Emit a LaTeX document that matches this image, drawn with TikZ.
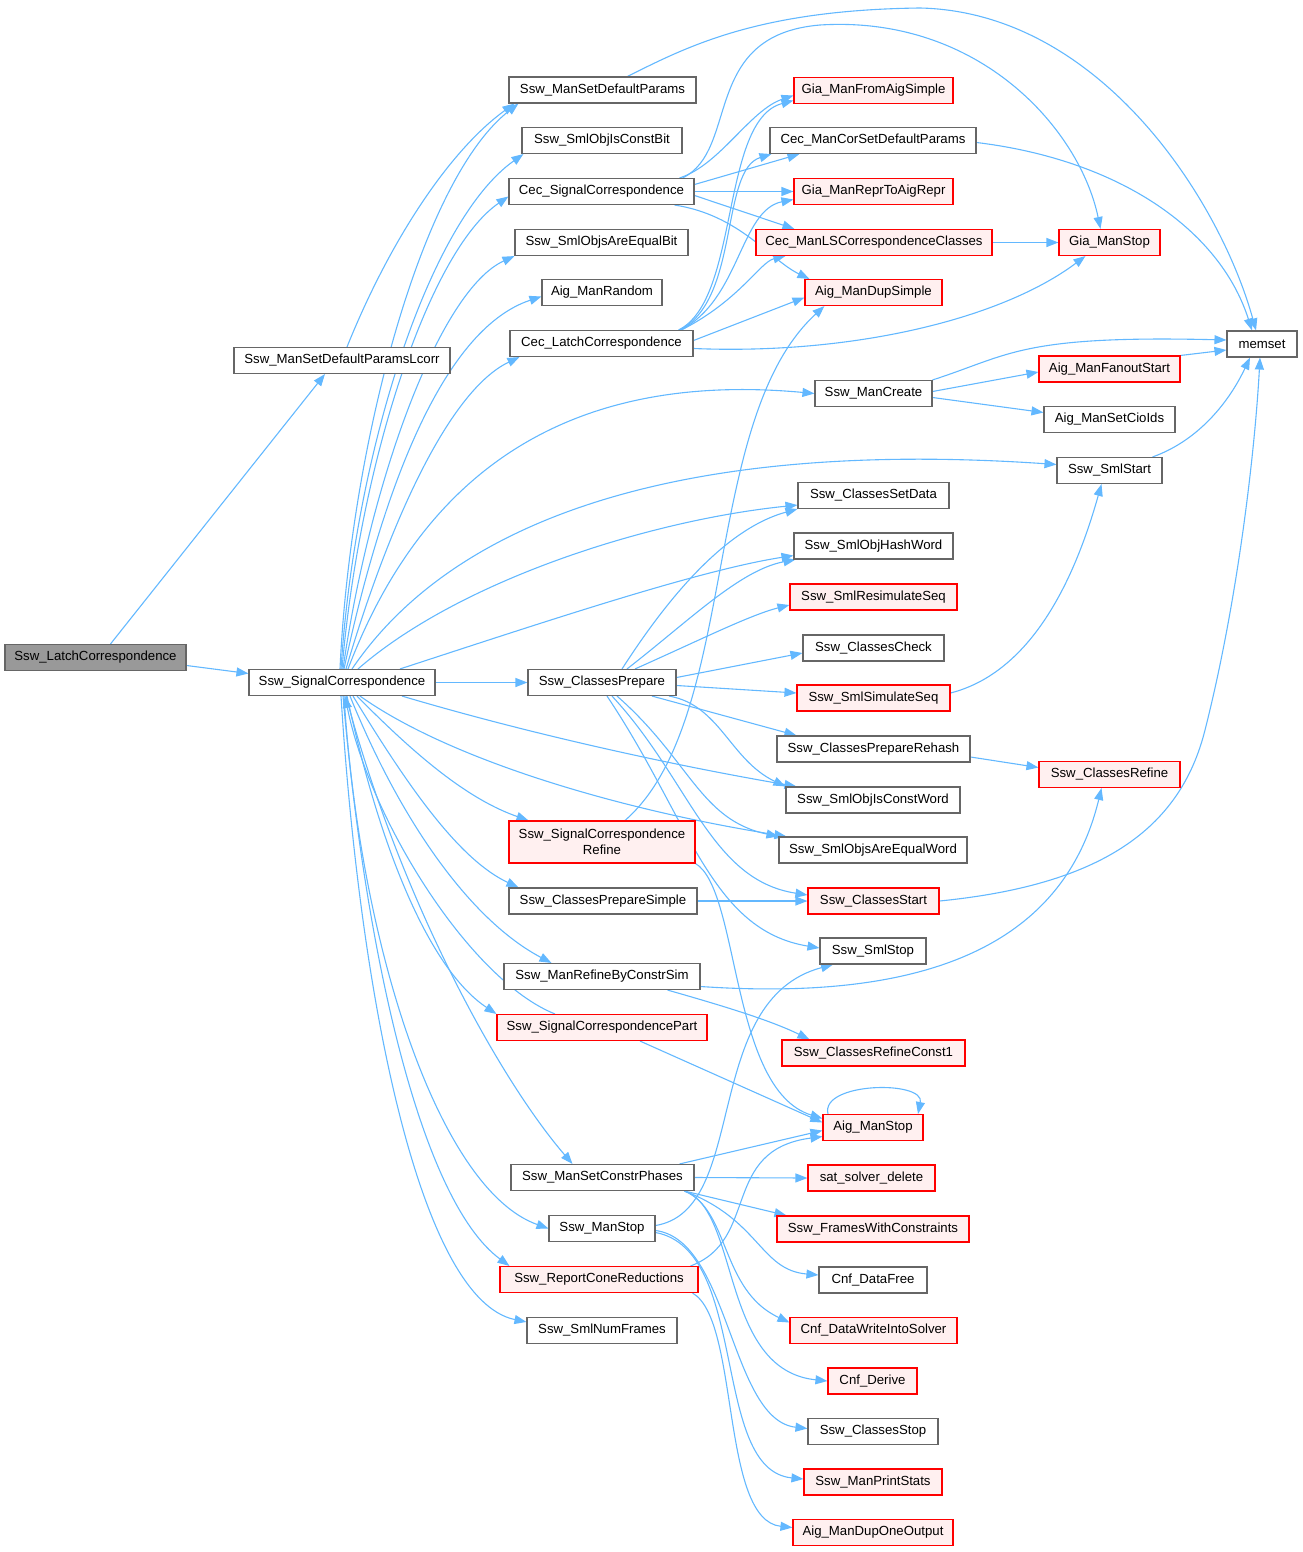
\documentclass[tikz,border=0pt]{standalone}
\usepackage{fontspec}
\setmainfont{Liberation Sans}
\usetikzlibrary{arrows.meta}
\definecolor{edgec}{HTML}{63B8FF}
\definecolor{nbord}{HTML}{666666}
\definecolor{rbord}{HTML}{FF0000}
\definecolor{rfill}{HTML}{FFF0F0}
\definecolor{rootfill}{HTML}{999999}
\pgfdeclarelayer{edges}
\pgfsetlayers{edges,main}
\begin{document}
\begin{tikzpicture}[x=1pt,y=-1pt,
 nd/.style={draw=nbord, fill=white, line width=1.1pt, minimum height=26pt, inner sep=0pt, font=\fontsize{13.2}{15.5}\selectfont},
 rnd/.style={nd, draw=rbord, fill=rfill},
 root/.style={nd, fill=rootfill},
 e/.style={draw=edgec, line width=1.1pt, -{Triangle[length=12pt,width=9pt]}}]
\useasboundingbox (0,0) rectangle (1302,1552);
% column 1/2
\node[root, minimum width=181] (lc) at (95.5,657.5) {Ssw\_LatchCorrespondence};
\node[nd, minimum width=216] (lcorr) at (342,360.5) {Ssw\_ManSetDefaultParamsLcorr};
\node[nd, minimum width=186] (sc) at (342,682.5) {Ssw\_SignalCorrespondence};
% column 3
\node[nd, minimum width=187] (msdp) at (602.5,90) {Ssw\_ManSetDefaultParams};
\node[nd, minimum width=160] (socb) at (602,140.5) {Ssw\_SmlObjIsConstBit};
\node[nd, minimum width=185] (cecsc) at (601.5,191.5) {Cec\_SignalCorrespondence};
\node[nd, minimum width=173] (soaeb) at (601.5,242.5) {Ssw\_SmlObjsAreEqualBit};
\node[nd, minimum width=120] (amr) at (602,292.5) {Aig\_ManRandom};
\node[nd, minimum width=183] (ceclc) at (601.5,343.5) {Cec\_LatchCorrespondence};
\node[nd, minimum width=148] (cp) at (602,682.5) {Ssw\_ClassesPrepare};
\node[rnd, minimum width=186, minimum height=42, align=center] (scr) at (602,842) {Ssw\_SignalCorrespondence\\Refine};
\node[nd, minimum width=188] (cps) at (603,901) {Ssw\_ClassesPrepareSimple};
\node[nd, minimum width=196] (mrbcs) at (602,976.5) {Ssw\_ManRefineByConstrSim};
\node[rnd, minimum width=210] (scp) at (602,1027.5) {Ssw\_SignalCorrespondencePart};
\node[nd, minimum width=183] (mscp) at (602.5,1177.5) {Ssw\_ManSetConstrPhases};
\node[nd, minimum width=106] (msstop) at (602,1228.5) {Ssw\_ManStop};
\node[rnd, minimum width=198] (rcr) at (599,1279.5) {Ssw\_ReportConeReductions};
\node[nd, minimum width=150] (snf) at (602,1330.5) {Ssw\_SmlNumFrames};
% column 4
\node[rnd, minimum width=159] (gmfas) at (873.5,90.5) {Gia\_ManFromAigSimple};
\node[nd, minimum width=206] (ccsdp) at (873,140.5) {Cec\_ManCorSetDefaultParams};
\node[rnd, minimum width=159] (gmrar) at (873.5,191.5) {Gia\_ManReprToAigRepr};
\node[rnd, minimum width=236] (cmlscc) at (874,242.5) {Cec\_ManLSCorrespondenceClasses};
\node[rnd, minimum width=137] (amds) at (873.5,292.5) {Aig\_ManDupSimple};
\node[nd, minimum width=117] (smc) at (873.5,393.5) {Ssw\_ManCreate};
\node[nd, minimum width=151] (csd) at (873.5,495.5) {Ssw\_ClassesSetData};
\node[nd, minimum width=159] (sohw) at (873.5,546) {Ssw\_SmlObjHashWord};
\node[rnd, minimum width=167] (srs) at (873.5,597) {Ssw\_SmlResimulateSeq};
\node[nd, minimum width=141] (cc) at (873.5,648) {Ssw\_ClassesCheck};
\node[rnd, minimum width=153] (sss) at (873.5,698) {Ssw\_SmlSimulateSeq};
\node[nd, minimum width=193] (cpr) at (873.5,749) {Ssw\_ClassesPrepareRehash};
\node[nd, minimum width=174] (socw) at (873,800) {Ssw\_SmlObjIsConstWord};
\node[nd, minimum width=188] (soaew) at (873,850) {Ssw\_SmlObjsAreEqualWord};
\node[rnd, minimum width=131] (cs) at (873.5,901) {Ssw\_ClassesStart};
\node[nd, minimum width=106] (sstop) at (873,951) {Ssw\_SmlStop};
\node[rnd, minimum width=183] (crc1) at (873.5,1053) {Ssw\_ClassesRefineConst1};
\node[rnd, minimum width=100] (ams) at (873,1127.5) {Aig\_ManStop};
\node[rnd, minimum width=127] (ssd) at (871.5,1178) {sat\_solver\_delete};
\node[rnd, minimum width=192] (fwc) at (873,1229) {Ssw\_FramesWithConstraints};
\node[nd, minimum width=108] (cdf) at (873,1280) {Cnf\_DataFree};
\node[rnd, minimum width=167] (cdwis) at (873.5,1330.5) {Cnf\_DataWriteIntoSolver};
\node[rnd, minimum width=89] (cd) at (872.5,1381) {Cnf\_Derive};
\node[nd, minimum width=130] (csstop) at (873,1431.5) {Ssw\_ClassesStop};
\node[rnd, minimum width=138] (mps) at (873,1482) {Ssw\_ManPrintStats};
\node[rnd, minimum width=160] (amdoo) at (873,1532.5) {Aig\_ManDupOneOutput};
% column 5
\node[rnd, minimum width=101] (gms) at (1109.5,242.5) {Gia\_ManStop};
\node[rnd, minimum width=141] (amfs) at (1109.5,369) {Aig\_ManFanoutStart};
\node[nd, minimum width=131] (amsci) at (1109.5,419.5) {Aig\_ManSetCioIds};
\node[nd, minimum width=105] (smlstart) at (1109.5,470.5) {Ssw\_SmlStart};
\node[rnd, minimum width=141] (cr) at (1109.5,774.5) {Ssw\_ClassesRefine};
% column 6
\node[nd, minimum width=70] (memset) at (1262,344) {memset};

\begin{pgfonlayer}{edges}
% root
\draw[e] ([xshift=15]lc.north) -- ([xshift=-17]lcorr.south);
\draw[e] ([yshift=-8]lc.east) -- ([yshift=9]sc.west);
\draw[e] ([xshift=5]lcorr.north) .. controls (390,240) and (450,150) .. ([xshift=6]msdp.south west);
\draw[e] ([xshift=25]msdp.north) .. controls (690,45) and (760,10) .. (920,8) .. controls (1100,12) and (1220,200) .. ([xshift=-6]memset.north);
% sc upward
\draw[e] ([xshift=-2]sc.north) .. controls (350,450) and (420,180) .. ([xshift=10]msdp.south west);
\draw[e] ([xshift=-1]sc.north) .. controls (355,450) and (430,220) .. ([xshift=2]socb.south west);
\draw[e] (sc.north) .. controls (360,460) and (430,250) .. ([yshift=-5]cecsc.west);
\draw[e] ([xshift=1]sc.north) .. controls (370,480) and (440,290) .. (soaeb.south west);
\draw[e] ([xshift=2]sc.north) .. controls (380,500) and (440,330) .. ([yshift=-4]amr.west);
\draw[e] ([xshift=4]sc.north) .. controls (390,520) and (450,390) .. ([xshift=10]ceclc.south west);
\draw[e] ([xshift=6]sc.north) .. controls (420,480) and (560,370) .. (smc.west);
\draw[e] ([xshift=10]sc.north) .. controls (460,510) and (700,440) .. ([yshift=6]smlstart.west);
\draw[e] ([xshift=16]sc.north) .. controls (460,580) and (650,520) .. ([yshift=4]csd.south west);
\draw[e] ([xshift=58]sc.north) .. controls (550,620) and (700,570) .. ([yshift=4]sohw.south west);
\draw[e] (sc.east) -- (cp.west);
% sc downward
\draw[e] ([xshift=60]sc.south) .. controls (550,740) and (700,770) .. ([xshift=11]socw.north west);
\draw[e] ([xshift=18]sc.south) .. controls (450,760) and (620,810) .. ([xshift=8]soaew.north west);
\draw[e] ([xshift=15]sc.south) .. controls (420,760) and (470,800) .. ([xshift=20]scr.north west);
\draw[e] ([xshift=11]sc.south) .. controls (410,790) and (460,860) .. ([xshift=10]cps.north west);
\draw[e] ([xshift=8]sc.south) .. controls (400,820) and (470,920) .. ([xshift=48]mrbcs.north west);
\draw[e] ([xshift=5]sc.south) .. controls (380,850) and (430,970) .. (scp.north west);
\draw[e] ([xshift=-47]scp.north) .. controls (470,980) and (370,820) .. ([xshift=3]sc.south);
\draw[e] ([xshift=4]sc.south) .. controls (400,900) and (500,1080) .. ([xshift=-30]mscp.north);
\draw[e] ([xshift=2]sc.south) .. controls (360,950) and (440,1190) .. (msstop.west);
\draw[e] ([xshift=1]sc.south) .. controls (365,950) and (420,1200) .. ([xshift=10]rcr.north west);
\draw[e] ([xshift=-1]sc.south) .. controls (360,1000) and (420,1300) .. ([yshift=-5]snf.north west);
% Cec_SignalCorrespondence
\draw[e] ([xshift=-15]cecsc.north east) .. controls (720,165) and (750,110) .. ([yshift=-5]gmfas.west);
\draw[e] ([yshift=7]cecsc.east) -- ([xshift=30]ccsdp.south west);
\draw[e] (cecsc.east) -- (gmrar.west);
\draw[e] ([yshift=-4]cecsc.east) -- ([xshift=39]cmlscc.north west);
\draw[e] ([xshift=-20]cecsc.south east) .. controls (740,215) and (770,260) .. ([xshift=5]amds.north west);
\draw[e] ([xshift=-12]cecsc.north east) .. controls (740,150) and (700,35) .. (820,25) .. controls (980,15) and (1080,130) .. ([xshift=-9]gms.north);
% Cec_LatchCorrespondence
\draw[e] ([xshift=-15]ceclc.north east) .. controls (740,300) and (720,120) .. ([yshift=-10]gmfas.west);
\draw[e] ([xshift=-14]ceclc.north east) .. controls (740,300) and (720,170) .. ([xshift=2]ccsdp.south west);
\draw[e] ([xshift=-13]ceclc.north east) .. controls (740,300) and (740,210) .. ([yshift=-8]gmrar.west);
\draw[e] ([xshift=-12]ceclc.north east) .. controls (740,300) and (760,262) .. ([xshift=30]cmlscc.south west);
\draw[e] ([yshift=3]ceclc.east) -- ([yshift=-5]amds.west);
\draw[e] ([yshift=-5]ceclc.east) .. controls (850,355) and (1000,320) .. ([xshift=27]gms.south west);
% others upper
\draw[e] ([yshift=-2]ccsdp.east) .. controls (1120,160) and (1220,230) .. ([xshift=-10]memset.north);
\draw[e] (cmlscc.east) -- (gms.west);
\draw[e] (smc.north east) .. controls (1010,355) and (1020,335) .. ([yshift=4]memset.west);
\draw[e] ([yshift=2]smc.east) -- ([yshift=-3]amfs.west);
\draw[e] ([yshift=-4]smc.east) -- ([yshift=7]amsci.west);
\draw[e] (amfs.north east) -- ([yshift=-6]memset.west);
\draw[e] ([xshift=-10]smlstart.north east) .. controls (1200,440) and (1230,400) .. ([xshift=-12]memset.south);
\draw[e] ([yshift=5]sss.east) .. controls (1040,670) and (1080,560) .. ([xshift=-8]smlstart.south);
\draw[e] ([yshift=-8]cpr.east) -- ([yshift=7]cr.west);
\draw[e] ([yshift=-10]mrbcs.east) .. controls (900,1000) and (1060,960) .. ([xshift=-8]cr.south);
\draw[e] ([xshift=-33]mrbcs.south east) .. controls (720,1005) and (770,1020) .. ([xshift=28]crc1.north west);
\draw[e] (cs.east) .. controls (1100,885) and (1180,830) .. (1205,730) .. controls (1238,600) and (1255,450) .. ([xshift=-2]memset.south);
% Ssw_ClassesPrepare
\draw[e] ([xshift=20]cp.north) .. controls (660,610) and (720,530) .. (csd.south west);
\draw[e] ([xshift=25]cp.north) .. controls (690,620) and (740,570) .. ([xshift=2]sohw.south west);
\draw[e] ([xshift=33]cp.north) .. controls (700,640) and (750,615) .. ([yshift=-8]srs.west);
\draw[e] ([yshift=5]cp.east) -- ([yshift=-5]cc.west);
\draw[e] ([yshift=-3]cp.east) -- ([yshift=5]sss.west);
\draw[e] ([xshift=50]cp.south) -- ([xshift=20]cpr.north west);
\draw[e] ([xshift=67]cp.south) .. controls (720,705) and (730,760) .. (socw.north west);
\draw[e] ([xshift=15]cp.south) .. controls (690,760) and (700,820) .. (soaew.north west);
\draw[e] ([xshift=10]cp.south) .. controls (690,780) and (710,880) .. ([yshift=6]cs.west);
\draw[e] ([xshift=5]cp.south) .. controls (690,820) and (710,930) .. ([yshift=3]sstop.west);
% refine etc.
\draw[e] ([xshift=23]scr.north) .. controls (740,720) and (700,420) .. ([xshift=20]amds.south west);
\draw[e] (scr.south east) .. controls (740,890) and (730,1090) .. ([yshift=9]ams.west);
\draw[e] (cps.east) -- (cs.west);
\draw[e] ([xshift=38]scp.south) -- ([yshift=5]ams.west);
\draw[e] ([xshift=-45]ams.north) .. controls (820,1082) and (925,1080) .. ([xshift=45]ams.north);
% Ssw_ManSetConstrPhases
\draw[e] ([xshift=-15]mscp.north east) -- ([yshift=-3]ams.west);
\draw[e] (mscp.east) -- (ssd.west);
\draw[e] ([xshift=-10]mscp.south east) -- ([xshift=10]fwc.north west);
\draw[e] ([xshift=-10]mscp.south east) .. controls (760,1220) and (760,1270) .. ([yshift=5]cdf.west);
\draw[e] ([xshift=-10]mscp.south east) .. controls (730,1210) and (720,1290) .. ([yshift=8]cdwis.west);
\draw[e] ([xshift=-10]mscp.south east) .. controls (740,1210) and (720,1370) .. (cd.west);
% Ssw_ManStop
\draw[e] ([yshift=3]msstop.east) .. controls (750,1210) and (700,1000) .. ([xshift=-40]sstop.south);
\draw[e] ([yshift=-2]msstop.east) .. controls (730,1240) and (730,1420) .. ([yshift=3]csstop.west);
\draw[e] ([yshift=-4]msstop.east) .. controls (750,1250) and (710,1470) .. ([yshift=3]mps.west);
% Ssw_ReportConeReductions
\draw[e] ([xshift=-8]rcr.north east) .. controls (760,1240) and (720,1150) .. ([yshift=-9]ams.west);
\draw[e] ([xshift=-6]rcr.south east) .. controls (740,1320) and (720,1520) .. ([yshift=5]amdoo.west);
\end{pgfonlayer}
\end{tikzpicture}
\end{document}
